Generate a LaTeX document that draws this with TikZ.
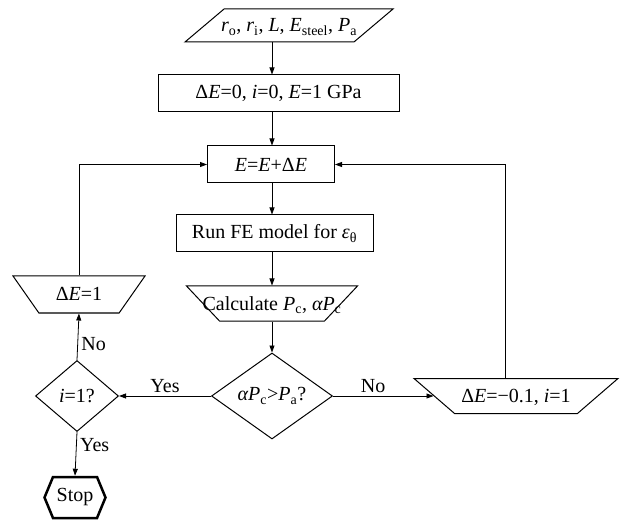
\documentclass[tikz,border=0pt]{standalone}
\usepackage{fontspec}
\setmainfont{Liberation Serif}
\usepackage{tikz}
\usetikzlibrary{arrows.meta,positioning,calc,shapes.geometric,shapes.symbols}
\newcommand{\var}[1]{\textit{#1}}
\newcommand{\sub}[1]{\textsubscript{#1}}
\newcommand{\squeeze}[1]{\makebox[40pt]{#1}}

\begin{document}
\begin{tikzpicture}[x=1pt, y=-1pt, font=\fontsize{20}{24}\selectfont, box/.style={draw, line width=1pt, rectangle, minimum height=37pt, inner sep=0pt}, io/.style={draw, line width=1pt, trapezium, trapezium stretches body, inner sep=0pt}, h33/.style={text height=23pt, text depth=10pt}, h35/.style={text height=24pt, text depth=11pt}, h37/.style={text height=25pt, text depth=12pt}, test/.style={draw, line width=1pt, diamond, inner sep=0pt}, arr/.style={-{Triangle[length=7pt,width=5pt]}, line width=0.8pt}]
\useasboundingbox (0,0) rectangle (621,521);
\coordinate (sp) at (272,0);
\node[io, h33, trapezium left angle=40.2, trapezium right angle=139.8, minimum width=208pt] (in) at (289,25.5) {\squeeze{\var{r}\sub{o}, \var{r}\sub{i}, \var{L}, \var{E}\sub{steel}, \var{P}\sub{a}}};
\node[box, minimum width=241pt] (init) at (278.5,93.5) {Δ\var{E}=0, \var{i}=0, \var{E}=1 GPa};
\node[box, minimum width=127pt] (upd) at (271,164.5) {\var{E}=\var{E}+Δ\var{E}};
\node[box, minimum width=197pt] (fe) at (274.5,233.5) {Run FE model for \var{ε}\sub{θ}};
\node[io, h35, trapezium left angle=133.3, trapezium right angle=133.3, minimum width=171pt] (calc) at (272,303.5) {\squeeze{Calculate \var{P}\sub{c}, \var{αP}\sub{c}}};
\node[test, aspect=1.4, minimum width=121pt, minimum height=86pt] (chk) at (272,396) {\var{αP}\sub{c}>\var{P}\sub{a}?};
\node[test, aspect=1.17, minimum width=83pt, minimum height=71pt] (ichk) at (77,396) {\var{i}=1?};
\node[io, h37, trapezium left angle=125, trapezium right angle=125, minimum width=132pt] (inc) at (79,294.5) {\squeeze{Δ\var{E}=1}};
\node[io, h35, trapezium left angle=139.2, trapezium right angle=139.2, minimum width=204pt] (dec) at (516,396) {\squeeze{Δ\var{E}=−0.1, \var{i}=1}};
\node[draw, line width=2.5pt, signal, signal to=east and west, signal pointer angle=135, minimum width=61pt, minimum height=41pt, inner sep=0pt] (stop) at (75,497.5) {Stop};
\draw[arr] (in.south -| sp) -- (init.north -| sp);
\draw[arr] (init.south -| sp) -- (upd.north -| sp);
\draw[arr] (upd.south -| sp) -- (fe.north -| sp);
\draw[arr] (fe.south -| sp) -- (calc.north -| sp);
\draw[arr] (calc.south -| sp) -- (chk.north);
\draw[arr] (chk.west) -- (ichk.east) node[midway, above] {Yes};
\draw[arr] (chk.east) -- (dec) node[pos=0.4, above] {No};
\draw[arr] (ichk.north) -- (inc.south) node[pos=0.35, right] {No};
\draw[arr] (ichk.south) -- (stop.north) node[pos=0.3, right] {Yes};
\draw[arr] (inc.north) |- (upd.west);
\draw[arr] ([xshift=-11pt]dec.north) |- (upd.east);
\end{tikzpicture}
\end{document}
